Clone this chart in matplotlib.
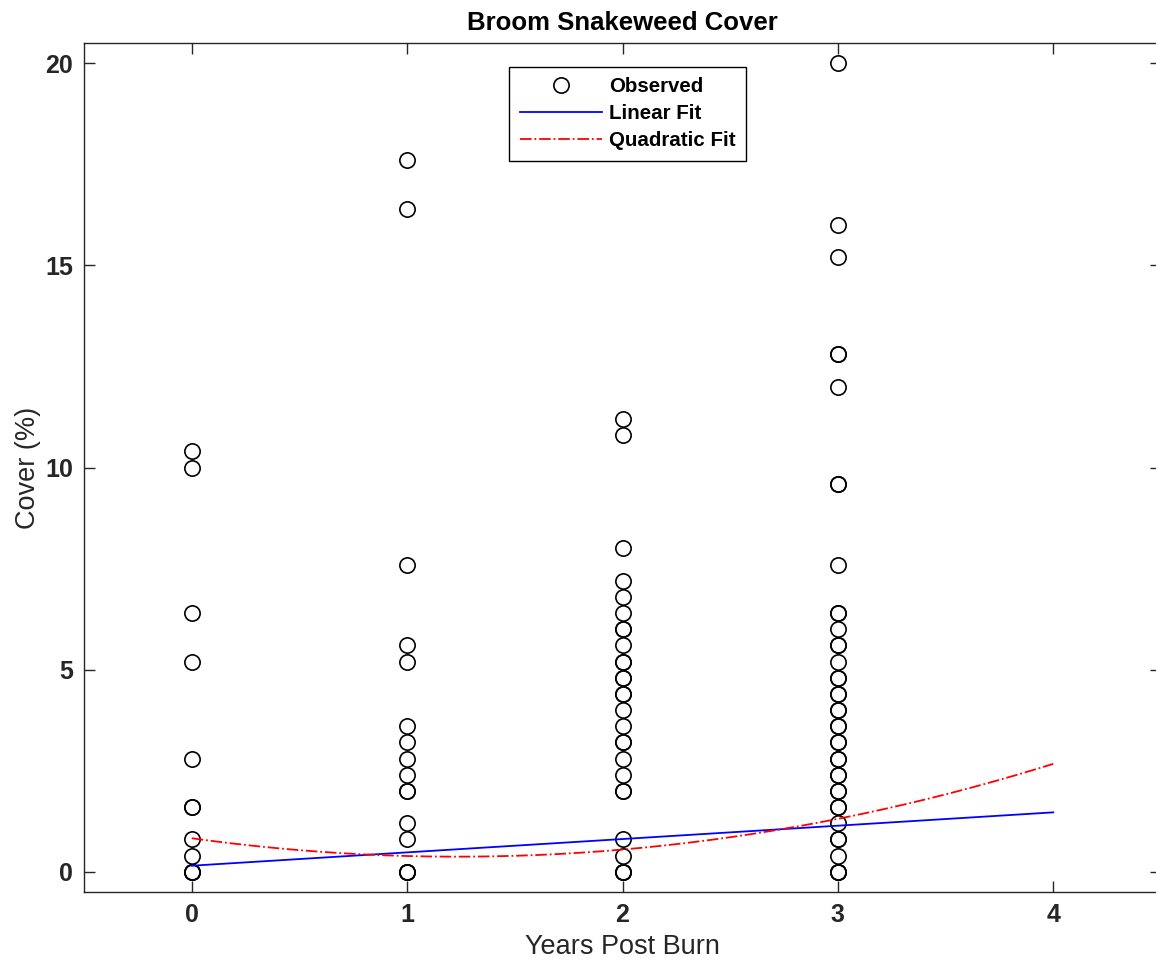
import numpy as np
import matplotlib.pyplot as plt

plt.rcParams['font.family'] = ['Liberation Sans', 'DejaVu Sans']

### Data
# cover readings per plot, grouped by years since the burn
cover_yr0 = [10.4, 10.0, 6.4, 5.2, 2.8, 1.6, 1.6, 0.8, 0.4, 0, 0, 0]
cover_yr1 = [17.6, 16.4, 7.6, 5.6, 5.2, 3.6, 3.2, 2.8, 2.4, 2.0, 2.0, 1.2, 0.8, 0, 0, 0]
cover_yr2 = [11.2, 10.8, 8.0, 7.2, 6.8, 6.4, 6.0, 6.0, 5.6, 5.2, 5.2, 4.8, 4.8,
             4.4, 4.4, 4.0, 3.6, 3.2, 3.2, 2.8, 2.4, 2.0, 2.0, 0.8, 0.4, 0, 0, 0]
cover_yr3 = [20.0, 16.0, 15.2, 12.8, 12.8, 12.0, 9.6, 9.6, 7.6, 6.4, 6.4, 6.0,
             5.6, 5.6, 5.2, 4.8, 4.8, 4.4, 4.4, 4.0, 4.0, 3.6, 3.6, 3.2, 3.2,
             2.8, 2.8, 2.4, 2.4, 2.0, 2.0, 1.6, 1.6, 1.2, 0.8, 0.8, 0.4, 0, 0, 0]

# fit coefficients, highest power first
lin_coef = [0.33, 0.15]
quad_coef = [0.30, -0.74, 0.83]

years = []
cover = []
for yr, vals in enumerate([cover_yr0, cover_yr1, cover_yr2, cover_yr3]):
  years += [yr]*len(vals)
  cover += vals

xs = np.linspace(0, 4, 200)

### Plot
fig = plt.figure(figsize=(11.56, 9.68), dpi=100)
ax = fig.add_axes([84/1156, 76/968, 1077/1156, 849/968])

ax.plot(years, cover, 'o', mfc='none', mec='k', ms=11, mew=1.2, label='Observed')
ax.plot(xs, np.polyval(lin_coef, xs), '-', color='#0000ff', lw=1.3, label='Linear Fit')
ax.plot(xs, np.polyval(quad_coef, xs), '-.', color='#ff0000', lw=1.3, label='Quadratic Fit')

ax.set_xlim(-0.5, 4.5)
ax.set_ylim(-0.5, 20.5)
ax.set_xticks([0, 1, 2, 3, 4])
ax.set_yticks([0, 5, 10, 15, 20])
ax.tick_params(direction='in', length=8, width=1, top=True, right=True,
               labelsize=18, colors='#262626', pad=8)
for lab in ax.get_xticklabels() + ax.get_yticklabels():
  lab.set_fontweight('bold')
for sp in ax.spines.values():
  sp.set_color('#262626')
  sp.set_linewidth(1.0)

ax.set_title('Broom Snakeweed Cover', fontsize=18.5, fontweight='bold', pad=9)
ax.set_xlabel('Years Post Burn', fontsize=19.5, color='#262626', labelpad=5)
ax.set_ylabel('Cover (%)', fontsize=19.5, color='#262626', labelpad=3)

leg = ax.legend(loc='upper left', bbox_to_anchor=(0.395, 0.972), borderaxespad=0,
                fancybox=False, edgecolor='k', framealpha=1,
                prop={'weight': 'bold', 'size': 14.8}, handlelength=4.0,
                borderpad=0.5, labelspacing=0.4, handletextpad=0.35)
leg.get_frame().set_linewidth(1.0)

plt.savefig('out.png', dpi=100)
